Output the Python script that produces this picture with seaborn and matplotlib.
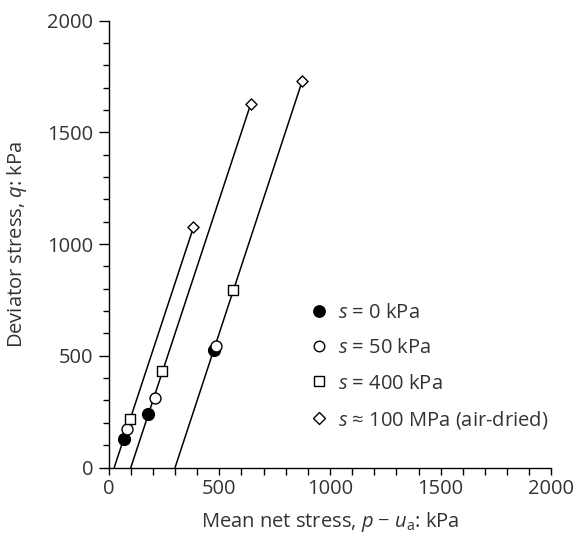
import matplotlib
matplotlib.use("Agg")
import matplotlib.pyplot as plt
import pandas as pd
import seaborn as sns
from matplotlib.ticker import MultipleLocator

# Failure points (mean net stress p - ua, deviator stress q), grouped by suction
suction_labels = ["$s$ = 0 kPa", "$s$ = 50 kPa", "$s$ = 400 kPa",
                  "$s$ \u2248 100 MPa (air-dried)"]
p_s0 = [70, 179, 475]
q_s0 = [129, 240, 527]
p_s50 = [83, 207, 485]
q_s50 = [171, 312, 542]
p_s400 = [96, 243, 563]
q_s400 = [215, 430, 794]
p_dry = [383, 642, 875]
q_dry = [1075, 1627, 1731]

# Total stress paths: start on the p axis, end at the air-dried failure point
path_p_start = [25, 100, 300]
path_q_start = [0, 0, 0]
path_p_end = p_dry
path_q_end = q_dry

sns.set_theme(style="white")
plt.rcParams["font.family"] = ["Open Sans", "DejaVu Sans"]
plt.rcParams["mathtext.fontset"] = "custom"
plt.rcParams["mathtext.rm"] = "Open Sans"
plt.rcParams["mathtext.it"] = "Open Sans:italic"
plt.rcParams["mathtext.bf"] = "Open Sans:bold"

text_col = "#333333"
fs = 14.5

pts = pd.DataFrame({
    "p": p_s0 + p_s50 + p_s400 + p_dry,
    "q": q_s0 + q_s50 + q_s400 + q_dry,
    "suction": ([suction_labels[0]] * len(p_s0) + [suction_labels[1]] * len(p_s50)
                + [suction_labels[2]] * len(p_s400) + [suction_labels[3]] * len(p_dry)),
})

paths = pd.DataFrame({
    "p": [v for a, b in zip(path_p_start, path_p_end) for v in (a, b)],
    "q": [v for a, b in zip(path_q_start, path_q_end) for v in (a, b)],
    "path": [i for i in range(len(path_p_start)) for _ in range(2)],
})

fig = plt.figure(figsize=(5.76, 5.34), dpi=100)
ax = fig.add_axes([0.1887, 0.1245, 0.7684, 0.837])

sns.lineplot(data=paths, x="p", y="q", units="path", estimator=None,
             color="black", lw=1.1, ax=ax, legend=False, sort=False)

markers = {suction_labels[0]: "o", suction_labels[1]: "o",
           suction_labels[2]: "s", suction_labels[3]: "D"}
faces = {suction_labels[0]: "black", suction_labels[1]: "white",
         suction_labels[2]: "white", suction_labels[3]: "white"}
sizes = {suction_labels[0]: 72, suction_labels[1]: 62,
         suction_labels[2]: 60, suction_labels[3]: 32}
leg_ms = {suction_labels[0]: 8.2, suction_labels[1]: 7.6,
          suction_labels[2]: 7.4, suction_labels[3]: 5.8}

handles = []
for lab in suction_labels:
    sub = pts[pts["suction"] == lab]
    sns.scatterplot(data=sub, x="p", y="q", marker=markers[lab], s=sizes[lab],
                    facecolor=faces[lab], edgecolor="black", linewidth=1.0,
                    ax=ax, zorder=3)
    handles.append(plt.Line2D([], [], ls="none", marker=markers[lab],
                              markersize=leg_ms[lab],
                              markerfacecolor=faces[lab], markeredgecolor="black",
                              markeredgewidth=1.0, label=lab))

ax.set_xlim(0, 2000)
ax.set_ylim(0, 2000)
ax.xaxis.set_major_locator(MultipleLocator(500))
ax.xaxis.set_minor_locator(MultipleLocator(100))
ax.yaxis.set_major_locator(MultipleLocator(500))
ax.yaxis.set_minor_locator(MultipleLocator(100))

for side in ("top", "right"):
    ax.spines[side].set_visible(False)
for side in ("left", "bottom"):
    ax.spines[side].set_color("black")
    ax.spines[side].set_linewidth(1.0)

ax.tick_params(axis="x", which="both", direction="out", length=5, width=1.0,
               color="black", labelsize=fs, labelcolor=text_col, pad=3,
               bottom=True)
ax.tick_params(axis="y", which="major", direction="out", length=7, width=1.0,
               color="black", labelsize=fs, labelcolor=text_col, pad=4, left=True)
ax.tick_params(axis="y", which="minor", direction="out", length=4.5, width=1.0,
               color="black", left=True)

ax.set_xlabel("Mean net stress, $p$ \u2212 $u_{\\mathrm{a}}$: kPa", fontsize=fs,
              color=text_col, labelpad=8)
ax.set_ylabel("Deviator stress, $q$: kPa", fontsize=fs, color=text_col,
              labelpad=13)

leg = ax.legend(handles=handles, loc="center left", bbox_to_anchor=(0.456, 0.225),
                frameon=False, fontsize=fs, handlelength=0.8, borderpad=0,
                handletextpad=0.55, labelspacing=0.75, borderaxespad=0)
for t in leg.get_texts():
    t.set_color(text_col)

fig.savefig("out.png", dpi=100)
